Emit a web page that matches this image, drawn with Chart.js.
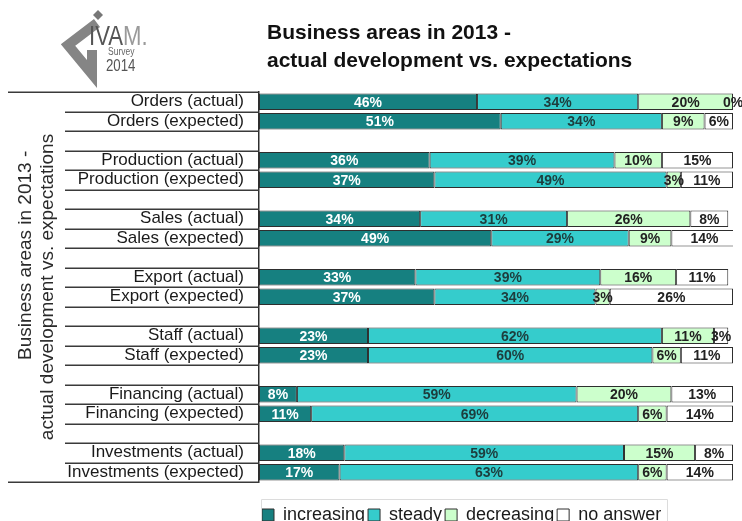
<!DOCTYPE html>
<html>
<head>
<meta charset="utf-8">
<script src="https://cdn.jsdelivr.net/npm/chart.js@4/dist/chart.umd.min.js"></script>
<style>
  html, body { margin: 0; padding: 0; background: #ffffff; }
  #wrap { width: 742px; height: 521px; position: relative; }
</style>
</head>
<body>
<div id="wrap"><canvas id="chart" width="742" height="521"></canvas></div>
<script>
// Rows of the survey, blank rows separate the business areas
const categories = [
  'Orders (actual)', 'Orders (expected)', '',
  'Production (actual)', 'Production (expected)', '',
  'Sales (actual)', 'Sales (expected)', '',
  'Export (actual)', 'Export (expected)', '',
  'Staff (actual)', 'Staff (expected)', '',
  'Financing (actual)', 'Financing (expected)', '',
  'Investments (actual)', 'Investments (expected)'
];
const increasing = [46, 51, null, 36, 37, null, 34, 49, null, 33, 37, null, 23, 23, null, 8, 11, null, 18, 17];
const steady     = [34, 34, null, 39, 49, null, 31, 29, null, 39, 34, null, 62, 60, null, 59, 69, null, 59, 63];
const decreasing = [20, 9, null, 10, 3, null, 26, 9, null, 16, 3, null, 11, 6, null, 20, 6, null, 15, 6];
const noAnswer   = [0, 6, null, 15, 11, null, 8, 14, null, 11, 26, null, 3, 11, null, 13, 14, null, 8, 14];
const seriesNames = ['increasing', 'steady', 'decreasing', 'no answer'];
const titleLines = ['Business areas in 2013 -', 'actual development vs. expectations'];
// the first line of the axis title sits further toward the top of the axis
const axisTitleLines = ['            Business areas in 2013 -', 'actual development vs. expectations'];

const FONT = '"Liberation Sans", Arial, Helvetica, sans-serif';
const fillColors = ['#168080', '#35cccc', '#ccffcc', '#ffffff'];
const valueColors = ['#ffffff', '#1d3d3d', '#222222', '#222222'];

// Value labels centred inside each segment
const segmentLabels = {
  id: 'segmentLabels',
  afterDatasetsDraw(chart) {
    const ctx = chart.ctx;
    ctx.save();
    ctx.font = 'bold 14px ' + FONT;
    ctx.textAlign = 'center';
    ctx.textBaseline = 'middle';
    chart.data.datasets.forEach((ds, di) => {
      const meta = chart.getDatasetMeta(di);
      meta.data.forEach((bar, i) => {
        const v = ds.data[i];
        if (v === null || v === undefined) return;
        ctx.fillStyle = valueColors[di];
        ctx.fillText(v + '%', (bar.x + bar.base) / 2, bar.y + 1);
      });
    });
    ctx.restore();
  }
};

// Separator lines between category rows on the label side
const rowSeparators = {
  id: 'rowSeparators',
  afterDraw(chart) {
    const y = chart.scales.y;
    const ctx = chart.ctx;
    const n = categories.length;
    ctx.save();
    ctx.strokeStyle = '#3a3a3a';
    ctx.lineWidth = 1.5;
    for (let i = 0; i <= n; i++) {
      const py = Math.round(y.getPixelForValue(i - 0.5)) + 0.25;
      const x0 = (i === 0 || i === n) ? y.left : y.left + 57;
      ctx.beginPath();
      ctx.moveTo(x0, py);
      ctx.lineTo(y.right, py);
      ctx.stroke();
    }
    ctx.restore();
  }
};

// Heading and survey logo
const header = {
  id: 'header',
  afterDraw(chart) {
    const ctx = chart.ctx;
    ctx.save();
    // heading
    ctx.fillStyle = '#111111';
    ctx.font = 'bold 21px ' + FONT;
    ctx.textAlign = 'left';
    ctx.textBaseline = 'alphabetic';
    ctx.fillText(titleLines[0], 267, 39);
    ctx.fillText(titleLines[1], 267, 67);

    // logo mark
    ctx.strokeStyle = '#858585';
    ctx.lineWidth = 10;
    ctx.lineJoin = 'miter';
    ctx.beginPath();
    ctx.moveTo(97, 23);
    ctx.lineTo(68, 45);
    ctx.lineTo(92, 74);
    ctx.lineTo(92, 50);
    ctx.stroke();
    ctx.fillStyle = '#777777';
    ctx.beginPath();
    ctx.moveTo(98, 10); ctx.lineTo(103, 15); ctx.lineTo(98, 20); ctx.lineTo(93, 15);
    ctx.closePath();
    ctx.fill();

    ctx.save();
    ctx.translate(89, 45);
    ctx.scale(0.82, 1);
    ctx.font = '27px ' + FONT;
    ctx.fillStyle = '#555555';
    ctx.fillText('IVA', 0, 0);
    const w = ctx.measureText('IVA').width;
    ctx.fillStyle = '#9a9a9a';
    ctx.fillText('M.', w, 0);
    ctx.restore();

    ctx.save();
    ctx.translate(108, 55);
    ctx.scale(0.85, 1);
    ctx.font = '10px ' + FONT;
    ctx.fillStyle = '#666666';
    ctx.fillText('Survey', 0, 0);
    ctx.restore();

    ctx.save();
    ctx.translate(106, 71);
    ctx.scale(0.78, 1);
    ctx.font = '17px ' + FONT;
    ctx.fillStyle = '#555555';
    ctx.fillText('2014', 0, 0);
    ctx.restore();
    ctx.restore();
  }
};

// Thin frame around the legend entries
const legendFrame = {
  id: 'legendFrame',
  afterDraw(chart) {
    const lg = chart.legend;
    if (!lg || !lg.legendHitBoxes || !lg.legendHitBoxes.length) return;
    const hb = lg.legendHitBoxes;
    const first = hb[0];
    const last = hb[hb.length - 1];
    const ctx = chart.ctx;
    ctx.save();
    ctx.strokeStyle = '#dcdcdc';
    ctx.lineWidth = 1;
    const x0 = Math.round(first.left - 1) + 0.5;
    const x1 = Math.round(last.left + last.width + 6) + 0.5;
    const y0 = Math.round(lg.top - 4) + 0.5;
    ctx.beginPath();
    ctx.moveTo(x0, 530); ctx.lineTo(x0, y0); ctx.lineTo(x1, y0); ctx.lineTo(x1, 530);
    ctx.stroke();
    ctx.restore();
  }
};

const seriesData = [increasing, steady, decreasing, noAnswer];
const datasets = seriesNames.map((name, i) => ({
  label: name,
  data: seriesData[i],
  backgroundColor: fillColors[i],
  borderColor: '#2e2e2e',
  borderWidth: 1,
  borderSkipped: false,
  barPercentage: 0.85,
  categoryPercentage: 1.0
}));

new Chart(document.getElementById('chart'), {
  type: 'bar',
  data: { labels: categories, datasets },
  plugins: [segmentLabels, rowSeparators, header, legendFrame],
  options: {
    indexAxis: 'y',
    responsive: false,
    animation: false,
    devicePixelRatio: 1,
    layout: { padding: { top: 92, left: 8, right: 9, bottom: 0 } },
    scales: {
      x: {
        stacked: true,
        min: 0,
        max: 100,
        grid: { display: false },
        border: { display: false },
        ticks: { display: false },
        afterFit(scale) { scale.height = 21; }
      },
      y: {
        stacked: true,
        grid: { display: false, drawTicks: false },
        border: { display: true, color: '#2e2e2e', width: 1.5 },
        ticks: {
          autoSkip: false,
          padding: 15,
          color: '#1a1a1a',
          font: { family: FONT, size: 17 }
        },
        title: {
          display: true,
          text: axisTitleLines,
          color: '#2a2a2a',
          font: { family: FONT, size: 19, lineHeight: 1.16 },
          padding: { top: 7, bottom: 0 }
        },
        afterFit(scale) { scale.width = 251; }
      }
    },
    plugins: {
      title: { display: false },
      tooltip: { enabled: false },
      legend: {
        position: 'bottom',
        align: 'start',
        fullSize: false,
        maxHeight: 18,
        labels: {
          boxWidth: 12,
          boxHeight: 12,
          padding: 3,
          color: '#1a1a1a',
          font: { family: FONT, size: 18 }
        }
      }
    }
  }
});
</script>
</body>
</html>
